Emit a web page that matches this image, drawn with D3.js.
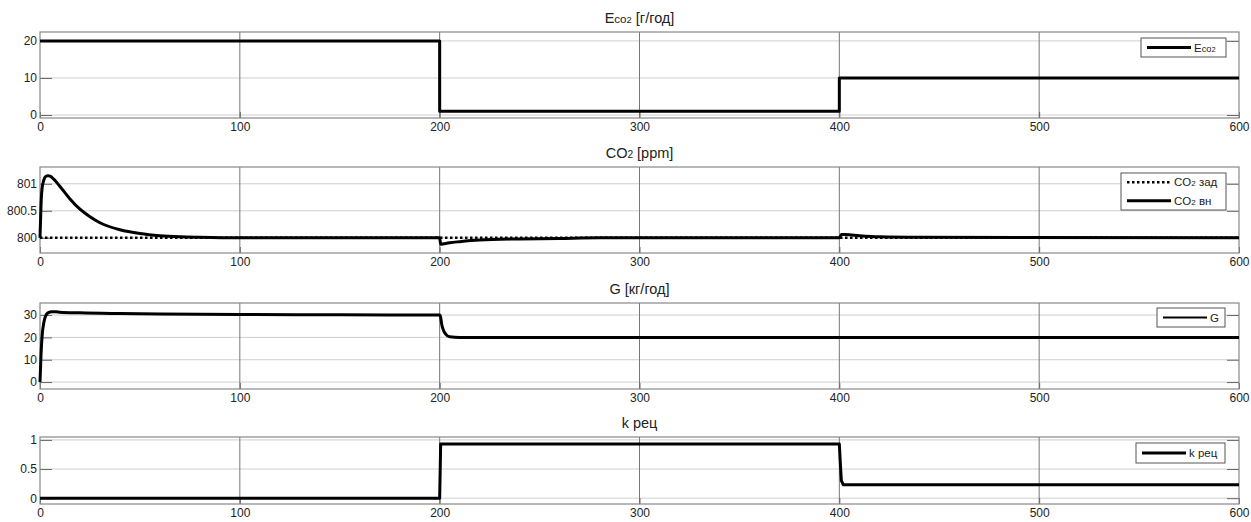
<!DOCTYPE html>
<html>
<head>
<meta charset="utf-8">
<script src="https://cdn.jsdelivr.net/npm/d3@7"></script>
<style>
  body { margin: 0; background: #fff; }
  text { font-family: "Liberation Sans", Arial, sans-serif; fill: #222; }
</style>
</head>
<body>
<div id="chart"></div>
<script>
// x ticks shared by all panels
var xTicks = [0, 100, 200, 300, 400, 500, 600];

// Eco2 [г/год]
var ecoT = [0, 200, 200, 400, 400, 600];
var ecoV = [20, 20, 1, 1, 10, 10];

// CO2 [ppm]
var zadT = [0, 600];
var zadV = [800, 800];
var vnT = [0, 0.5, 1, 2, 3, 4, 5, 7, 10, 15, 20, 25, 30, 40, 50, 60, 70, 80, 100, 200, 200.5, 202, 205, 210, 220, 240, 260, 280, 300, 400, 401, 403, 410, 420, 440, 600];
var vnV = [800, 800.6, 800.9, 801.08, 801.14, 801.15, 801.14, 801.08, 800.95, 800.72, 800.53, 800.39, 800.28, 800.15, 800.08, 800.04, 800.02, 800.01, 800, 800, 799.88, 799.89, 799.91, 799.93, 799.96, 799.98, 799.99, 800, 800, 800, 800.06, 800.06, 800.04, 800.02, 800.01, 800];

// G [кг/год]
var gT = [0, 0.5, 1, 2, 3, 4, 6, 8, 10, 20, 40, 60, 100, 150, 200, 200.5, 201, 202, 203, 205, 210, 600];
var gV = [0, 12, 20, 27, 30, 31, 31.5, 31.5, 31.3, 31.0, 30.7, 30.5, 30.3, 30.1, 30, 29, 26, 23, 21.5, 20.3, 20, 20];

// k рец
var kT = [0, 200, 200.5, 400, 400.5, 401, 402, 600];
var kV = [0, 0, 0.93, 0.93, 0.6, 0.3, 0.23, 0.23];

var W = 1251, H = 522;
var left = 40, right = 1239;

var svg = d3.select("#chart").append("svg").attr("width", W).attr("height", H);

var x = d3.scaleLinear().domain([0, 600]).range([left, right]);

var panels = [
  { top: 32, bottom: 118, domain: [-0.8, 22.4], yTicks: [0, 10, 20], title: "ecoTitle",
    series: [{ t: ecoT, v: ecoV, w: 3, dash: null, smooth: false }],
    legend: { x0: 1141, y0: 38, w: 85, h: 19, items: [{ label: "eco", w: 3, dash: null }] } },
  { top: 167, bottom: 253, domain: [799.72, 801.31], yTicks: [800, 800.5, 801], title: "co2",
    series: [{ t: zadT, v: zadV, w: 2.5, dash: "2.5,2.5", smooth: false }, { t: vnT, v: vnV, w: 3, dash: null, smooth: true }],
    legend: { x0: 1121, y0: 173, w: 105, h: 37, items: [{ label: "zad", w: 2.5, dash: "2.5,2.5" }, { label: "vn", w: 3, dash: null }] } },
  { top: 303, bottom: 389, domain: [-3.1, 35.4], yTicks: [0, 10, 20, 30], title: "G [кг/год]",
    series: [{ t: gT, v: gV, w: 3, dash: null, smooth: true }],
    legend: { x0: 1157, y0: 308, w: 68, h: 19, items: [{ label: "G", w: 2, dash: null }] } },
  { top: 437, bottom: 504, domain: [-0.1, 1.05], yTicks: [0, 0.5, 1], title: "k рец",
    series: [{ t: kT, v: kV, w: 3, dash: null, smooth: false }],
    legend: { x0: 1136, y0: 443, w: 89, h: 20, items: [{ label: "k рец", w: 3, dash: null }] } }
];

function writeLabel(sel, label, size) {
  // subscript-like parts, as in the original figure
  if (label === "eco" || label === "ecoTitle") {
    sel.append("tspan").text("E");
    sel.append("tspan").attr("font-size", size * 0.8).text("co");
    sel.append("tspan").attr("font-size", size * 0.65).text("2");
    if (label === "ecoTitle") sel.append("tspan").text(" [г/год]");
  } else if (label === "co2" || label === "zad" || label === "vn") {
    sel.append("tspan").text("CO");
    sel.append("tspan").attr("font-size", size * 0.7).text("2");
    if (label === "co2") sel.append("tspan").text(" [ppm]");
    if (label === "zad") sel.append("tspan").text(" зад");
    if (label === "vn") sel.append("tspan").text(" вн");
  } else {
    sel.text(label);
  }
}

panels.forEach(function (p) {
  var y = d3.scaleLinear().domain(p.domain).range([p.bottom, p.top]);
  var g = svg.append("g");

  // horizontal grid
  g.selectAll(".hg").data(p.yTicks).enter().append("line")
    .attr("x1", left).attr("x2", right)
    .attr("y1", function (d) { return y(d); }).attr("y2", function (d) { return y(d); })
    .attr("stroke", "#cfcfcf").attr("stroke-width", 1);
  // vertical grid
  g.selectAll(".vg").data(xTicks.slice(1, -1)).enter().append("line")
    .attr("x1", function (d) { return x(d); }).attr("x2", function (d) { return x(d); })
    .attr("y1", p.top).attr("y2", p.bottom)
    .attr("stroke", "#777").attr("stroke-width", 1);

  // axes (inward ticks)
  var yl = d3.axisLeft(y).tickValues(p.yTicks).tickSize(-12).tickPadding(3).tickFormat(d3.format("~g"));
  var yr = d3.axisRight(y).tickValues(p.yTicks).tickSize(-12).tickFormat("");
  var xb = d3.axisBottom(x).tickValues(xTicks).tickSize(-6).tickPadding(4).tickFormat(d3.format("d"));
  g.append("g").attr("transform", "translate(" + left + ",0)").call(yl)
    .call(function (a) { a.select(".domain").remove(); a.selectAll("line").attr("stroke", "#666"); a.selectAll("text").attr("font-size", 12).attr("fill", "#222"); });
  g.append("g").attr("transform", "translate(" + right + ",0)").call(yr)
    .call(function (a) { a.select(".domain").remove(); a.selectAll("line").attr("stroke", "#666"); });
  g.append("g").attr("transform", "translate(0," + p.bottom + ")").call(xb)
    .call(function (a) { a.select(".domain").remove(); a.selectAll("line").attr("stroke", "#666"); a.selectAll("text").attr("font-size", 12).attr("fill", "#222"); });

  // box
  g.append("rect").attr("x", left).attr("y", p.top)
    .attr("width", right - left).attr("height", p.bottom - p.top)
    .attr("fill", "none").attr("stroke", "#888").attr("stroke-width", 1.2);

  // data
  p.series.forEach(function (s) {
    var pts = s.t.map(function (t, i) { return [t, s.v[i]]; });
    var line = d3.line().x(function (d) { return x(d[0]); }).y(function (d) { return y(d[1]); });
    if (s.smooth) line.curve(d3.curveMonotoneX);
    g.append("path").datum(pts)
      .attr("d", line)
      .attr("fill", "none").attr("stroke", "#000").attr("stroke-width", s.w)
      .attr("stroke-dasharray", s.dash).attr("stroke-linejoin", "round");
  });

  // title
  var tt = g.append("text").attr("x", (left + right) / 2).attr("y", p.top - 9)
    .attr("text-anchor", "middle").attr("font-size", 14.5);
  writeLabel(tt, p.title, 14.5);

  // legend
  var L = p.legend;
  g.append("rect").attr("x", L.x0).attr("y", L.y0).attr("width", L.w).attr("height", L.h)
    .attr("fill", "#fff").attr("stroke", "#555").attr("stroke-width", 1);
  var rowH = L.h / L.items.length;
  L.items.forEach(function (it, i) {
    var cy = L.y0 + rowH * (i + 0.5);
    g.append("line").attr("x1", L.x0 + 6).attr("x2", L.x0 + 50)
      .attr("y1", cy).attr("y2", cy).attr("stroke", "#000").attr("stroke-width", it.w)
      .attr("stroke-dasharray", it.dash);
    var lt = g.append("text").attr("x", L.x0 + 53).attr("y", cy + 4).attr("font-size", 11.5);
    writeLabel(lt, it.label, 11.5);
  });
});
</script>
</body>
</html>
